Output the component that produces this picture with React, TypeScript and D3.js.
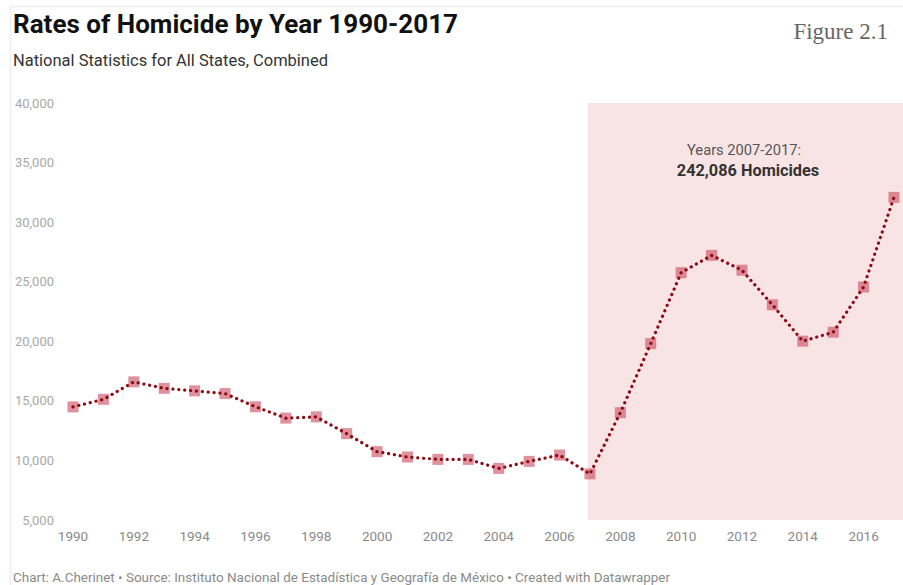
import React from "react";
import * as d3 from "d3";

const years = [1990,1991,1992,1993,1994,1995,1996,1997,1998,1999,2000,2001,2002,2003,2004,2005,2006,2007,2008,2009,2010,2011,2012,2013,2014,2015,2016,2017];
const homicides = [14493,15125,16594,16050,15839,15612,14505,13552,13656,12249,10737,10285,10088,10087,9329,9921,10452,8867,14006,19803,25757,27213,25967,23063,20010,20762,24559,32079];
const yTicks = [5000,10000,15000,20000,25000,30000,35000,40000];
const xTicks = [1990,1992,1994,1996,1998,2000,2002,2004,2006,2008,2010,2012,2014,2016];
const highlightRange = [2007, 2017];
const title = "Rates of Homicide by Year 1990-2017";
const subtitle = "National Statistics for All States, Combined";
const figureLabel = "Figure 2.1";
const annotationLine1 = "Years 2007-2017:";
const annotationLine2 = "242,086 Homicides";
const footer = "Chart: A.Cherinet \u2022 Source: Instituto Nacional de Estadística y Geografía de México \u2022 Created with Datawrapper";

export default function App() {
  const W = 903, H = 585;
  const x = d3.scaleLinear().domain([1990, 2017]).range([73, 894]);
  const y = d3.scaleLinear().domain([5000, 40000]).range([520, 103]);
  const fmt = d3.format(",");
  const line = d3.line<number>().x((_, i) => x(years[i])).y((d) => y(d));
  const font = "Roboto, 'Noto Sans', sans-serif";
  return (
    <svg width={W} height={H} style={{ position: "absolute", left: 0, top: 0, background: "#fff" }} fontFamily={font}>
      <rect x={0} y={0} width={W} height={H} fill="#fff" />
      <line x1={10} x2={W} y1={6.5} y2={6.5} stroke="#eeeeee" strokeWidth={1.5} />
      <line x1={10.5} x2={10.5} y1={6} y2={H} stroke="#eeeeee" strokeWidth={1.5} />
      <rect x={x(highlightRange[0]) - 2} y={y(40000)} width={W - x(highlightRange[0]) + 2} height={y(5000) - y(40000)} fill="#f9e4e5" />
      <text x={13} y={33} fontSize={25.5} fontWeight={700} fill="#111" textLength={445} lengthAdjust="spacingAndGlyphs">{title}</text>
      <text x={13} y={66} fontSize={16.3} fill="#333" textLength={315} lengthAdjust="spacingAndGlyphs">{subtitle}</text>
      <text x={888} y={39} fontSize={23} fill="#666" textAnchor="end" fontFamily="'Liberation Serif', 'Times New Roman', serif">{figureLabel}</text>
      {yTicks.map((t) => (
        <text key={t} x={54} y={y(t)} dy="0.35em" fontSize={13} fill="#a8a8a8" textAnchor="end">{fmt(t)}</text>
      ))}
      {xTicks.map((t) => (
        <text key={t} x={x(t)} y={541} fontSize={13.5} fill="#8a8a8a" textAnchor="middle">{t}</text>
      ))}
      <text x={744} y={155} fontSize={14.7} fill="#555" textAnchor="middle">{annotationLine1}</text>
      <text x={748} y={176} fontSize={16.3} fontWeight={700} fill="#333" textAnchor="middle">{annotationLine2}</text>
      {homicides.map((v, i) => (
        <rect key={i} x={x(years[i]) - 5.5} y={y(v) - 5.5} width={11} height={11} fill="#c9485b" fillOpacity={0.6} />
      ))}
      <path d={line(homicides) || ""} fill="none" stroke="#8c0a14" strokeWidth={3.2} strokeDasharray="0.1 5.8" strokeLinecap="round" />
      <text x={13} y={582} fontSize={13.4} fill="#8a8a8a" textLength={657} lengthAdjust="spacingAndGlyphs">{footer}</text>
    </svg>
  );
}
